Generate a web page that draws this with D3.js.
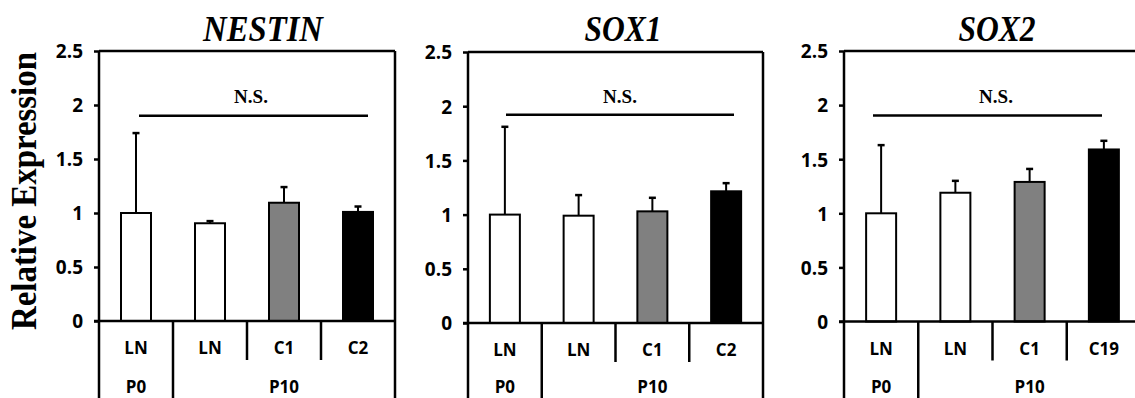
<!DOCTYPE html>
<html>
<head>
<meta charset="utf-8">
<script src="https://cdn.jsdelivr.net/npm/d3@7"></script>
<style>
  body { margin: 0; background: #fff; }
  svg { display: block; }
</style>
</head>
<body>
<svg id="chart" width="1135" height="398"></svg>
<script>
// data
const genes = ["NESTIN", "SOX1", "SOX2"];
const cellLabels = [
    ["LN", "LN", "C1", "C2"],
    ["LN", "LN", "C1", "C2"],
    ["LN", "LN", "C1", "C19"]
];
const passageLabels = ["P0", "P10"];
const passageSpan = [1, 3]; // number of categories under each passage
const means = [
    [1.0, 0.905, 1.095, 1.01],
    [1.0, 0.99, 1.03, 1.215],
    [1.0, 1.19, 1.29, 1.59]
];
const errUp = [
    [1.74, 0.925, 1.24, 1.06],
    [1.81, 1.18, 1.155, 1.29],
    [1.63, 1.30, 1.41, 1.67]
];
const nsLevel = [1.90, 1.92, 1.905];
const yTicks = [0, 0.5, 1, 1.5, 2, 2.5];
const barColors = ["#ffffff", "#ffffff", "#808080", "#000000"];

// layout of the three panels
const panels = [
    { x0: 99, w: 296, top: 51, zero: 321, titleX: 263, titleW: 120, nsX1: 40, nsX2: 269 },
    { x0: 468, w: 295, top: 52, zero: 323, titleX: 623, titleW: 77, nsX1: 38, nsX2: 266 },
    { x0: 844, w: 297, top: 51, zero: 321.5, titleX: 997, titleW: 77, nsX1: 29, nsX2: 258 }
];
const bottom = 400;
const serif = "'Liberation Serif', 'Times New Roman', serif";
const sans = "'Open Sans', sans-serif";

const svg = d3.select("#chart");

svg.append("text")
    .attr("transform", "translate(36,191) rotate(-90)")
    .attr("text-anchor", "middle")
    .attr("textLength", 278)
    .attr("lengthAdjust", "spacingAndGlyphs")
    .style("font-family", serif)
    .style("font-weight", "bold")
    .style("font-size", "35px")
    .text("Relative Expression");

panels.forEach((p, pi) => {
    const g = svg.append("g");
    const x = d3.scaleBand()
        .domain(d3.range(4))
        .range([p.x0, p.x0 + p.w]);
    const y = d3.scaleLinear().domain([0, 2.5]).range([p.zero, p.top]);
    const barW = 30;

    // title
    g.append("text")
        .attr("x", p.titleX)
        .attr("y", 40.5)
        .attr("text-anchor", "middle")
        .attr("textLength", p.titleW)
        .attr("lengthAdjust", "spacingAndGlyphs")
        .style("font-family", serif)
        .style("font-weight", "bold")
        .style("font-style", "italic")
        .style("font-size", "36px")
        .text(genes[pi]);

    // y axis
    const yAxis = g.append("g")
        .attr("transform", `translate(${p.x0},0)`)
        .call(d3.axisLeft(y).tickValues(yTicks).tickSize(5).tickPadding(11).tickFormat(d3.format("")));
    yAxis.attr("font-size", null).attr("font-family", null);
    yAxis.select(".domain").remove();
    yAxis.selectAll(".tick line").attr("stroke", "#000").attr("stroke-width", 2.5);
    yAxis.selectAll(".tick text")
        .attr("font-family", sans)
        .attr("font-weight", 700)
        .attr("font-size", 19)
        .attr("dy", "0.36em")
        .attr("fill", "#000");

    // error bars (upper only)
    const eb = g.selectAll("g.err")
        .data(means[pi].map((m, i) => ({ i, m, e: errUp[pi][i] })))
        .enter().append("g");
    eb.append("line")
        .attr("x1", d => x(d.i) + x.bandwidth() / 2)
        .attr("x2", d => x(d.i) + x.bandwidth() / 2)
        .attr("y1", d => y(d.m))
        .attr("y2", d => y(d.e))
        .attr("stroke", "#000").attr("stroke-width", 2);
    eb.append("line")
        .attr("x1", d => x(d.i) + x.bandwidth() / 2 - 3.5)
        .attr("x2", d => x(d.i) + x.bandwidth() / 2 + 3.5)
        .attr("y1", d => y(d.e))
        .attr("y2", d => y(d.e))
        .attr("stroke", "#000").attr("stroke-width", 2.5);

    // bars
    g.selectAll("rect.bar")
        .data(means[pi])
        .enter().append("rect")
        .attr("class", "bar")
        .attr("x", (d, i) => x(i) + (x.bandwidth() - barW) / 2)
        .attr("y", d => y(d))
        .attr("width", barW)
        .attr("height", d => y(0) - y(d))
        .attr("fill", (d, i) => barColors[i])
        .attr("stroke", "#000")
        .attr("stroke-width", 2);

    // frame: top, left, right, baseline
    const x1 = p.x0 + p.w;
    g.append("line").attr("x1", p.x0).attr("x2", x1).attr("y1", p.top).attr("y2", p.top)
        .attr("stroke", "#000").attr("stroke-width", 2.5);
    g.append("line").attr("x1", p.x0 - 5).attr("x2", x1).attr("y1", p.zero).attr("y2", p.zero)
        .attr("stroke", "#000").attr("stroke-width", 2.5);
    g.append("line").attr("x1", p.x0).attr("x2", p.x0).attr("y1", p.top).attr("y2", bottom)
        .attr("stroke", "#000").attr("stroke-width", 2.5);
    g.append("line").attr("x1", x1).attr("x2", x1).attr("y1", p.top).attr("y2", bottom)
        .attr("stroke", "#000").attr("stroke-width", 2.5);

    // category dividers: group edges run to the bottom, the rest are short
    let start = 0;
    const groupEdges = [];
    passageSpan.forEach(n => { start += n; groupEdges.push(start); });
    d3.range(1, 4).forEach(i => {
        const full = groupEdges.includes(i);
        g.append("line")
            .attr("x1", x(i)).attr("x2", x(i))
            .attr("y1", p.zero).attr("y2", full ? bottom : p.zero + 39)
            .attr("stroke", "#000").attr("stroke-width", 2.5);
    });

    // category labels
    g.selectAll("text.cat")
        .data(cellLabels[pi])
        .enter().append("text")
        .attr("x", (d, i) => x(i) + x.bandwidth() / 2)
        .attr("y", p.zero + 33)
        .attr("text-anchor", "middle")
        .attr("font-family", sans)
        .attr("font-weight", 700)
        .attr("font-size", 17)
        .text(d => d);

    // passage labels
    let s = 0;
    passageLabels.forEach((lab, k) => {
        const a = x(s), b = x(s + passageSpan[k] - 1) + x.bandwidth();
        g.append("text")
            .attr("x", (a + b) / 2)
            .attr("y", 393)
            .attr("text-anchor", "middle")
            .attr("font-family", sans)
            .attr("font-weight", 700)
            .attr("font-size", 17)
            .text(lab);
        s += passageSpan[k];
    });

    // N.S. bracket
    g.append("line")
        .attr("x1", p.x0 + p.nsX1).attr("x2", p.x0 + p.nsX2)
        .attr("y1", y(nsLevel[pi])).attr("y2", y(nsLevel[pi]))
        .attr("stroke", "#000").attr("stroke-width", 2.5);
    g.append("text")
        .attr("x", p.x0 + 152)
        .attr("y", 103)
        .attr("text-anchor", "middle")
        .attr("font-family", serif)
        .attr("font-weight", "bold")
        .attr("font-size", 19)
        .text("N.S.");
});
</script>
</body>
</html>
